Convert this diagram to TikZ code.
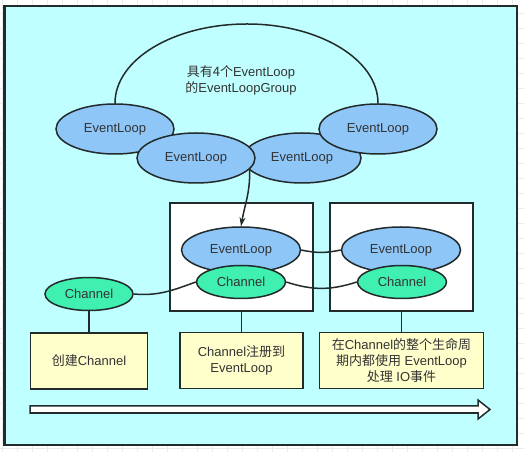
\documentclass[tikz,border=0pt]{standalone}
\usepackage{fontspec}
\setmainfont{Liberation Sans}
\newfontfamily\cjk{Noto Sans CJK SC}
\usetikzlibrary{shapes.geometric}
\usetikzlibrary{positioning}
\usetikzlibrary{arrows.meta}
\definecolor{sky}{HTML}{BFFFFF}
\definecolor{loopblue}{HTML}{8EC6F8}
\definecolor{changreen}{HTML}{40F0B0}
\definecolor{notey}{HTML}{FFFFCC}
\definecolor{ink}{HTML}{222A2A}
\definecolor{txt}{HTML}{333333}

\begin{document}
\begin{tikzpicture}[x=1pt,y=1pt,
  every node/.style={font=\fontsize{13}{16}\selectfont,text=txt},
  conn/.style={draw=ink,line width=1.5pt},
  evloop/.style={ellipse,conn,fill=loopblue,minimum width=118pt,minimum height=50pt,inner sep=0pt},
  chan/.style={ellipse,conn,fill=changreen,minimum width=89pt,minimum height=33pt,inner sep=0pt},
  stage/.style={rectangle,conn,fill=white,minimum width=143pt,minimum height=108pt},
  notebox/.style={rectangle,conn,fill=notey,minimum height=56pt,align=center,inner sep=0pt},
  gridline/.style={draw=black!8,line width=0.6pt}]
\useasboundingbox (0,0) rectangle (524,452);
\foreach \gx in {2,17,...,524} \draw[gridline] (\gx,0) -- (\gx,452);
\foreach \gy in {4,19,...,452} \draw[gridline] (0,\gy) -- (524,\gy);
\draw[draw=ink,line width=2.5pt,fill=sky] (4.5,446) rectangle (517,7);

\node[evloop] (e1) at (115,323) {EventLoop};
\node[evloop] (e3) at (302,294) {EventLoop};
\node[evloop] (e2) at (196,294) {EventLoop};
\node[evloop] (e4) at (378,323) {EventLoop};
\coordinate (gtop) at (247,428);
\draw[conn] (e1.north) .. controls +(0,44) and +(-73,0) .. (gtop) .. controls +(72,0) and +(0,44) .. (e4.north);
\node[align=center] (glabel) at (241,372) {{\cjk 具有4个}EventLoop\\{\cjk 的}EventLoopGroup};

\node[stage] (b1) at (241.5,195) {};
\node[stage] (b2) at (401.5,195) {};
\node[evloop,minimum width=119pt,minimum height=46pt] (l1) at (241,202) {EventLoop};
\node[evloop,minimum width=119pt,minimum height=46pt] (l2) at (401,202) {EventLoop};
\node[chan] (ch1) at (241,170) {Channel};
\node[chan] (ch2) at (402,170) {Channel};
\node[chan,minimum width=88pt] (ch0) at (89,158) {Channel};

\draw[conn,-{Stealth[length=9pt,width=6pt]}] (e2.-12) to[out=-88,in=80] (l1.north);
\draw[conn] (l1.east) to[out=-12,in=192] (l2.west);
\draw[conn] (ch0.east) to[out=-5,in=200] (ch1.west);
\draw[conn] (ch1.east) to[out=-18,in=198] (ch2.west);

\node[notebox,minimum width=117pt,below=21pt of ch0] (n0) {{\cjk 创建}Channel};
\node[notebox,minimum width=123pt,below=20pt of b1] (n1) {Channel{\cjk 注册到}\\EventLoop};
\node[notebox,minimum width=164pt,below=20pt of b2] (n2) {{\cjk 在}Channel{\cjk 的整个生命周}\\{\cjk 期内都使用} EventLoop\\{\cjk 处理} IO{\cjk 事件}};
\draw[conn] (ch0.south) -- (n0.north);
\draw[conn] (b1.south) -- (n1.north);
\draw[conn] (b2.south) -- (n2.north);

\draw[conn,fill=white,line join=miter] (30,46) -- (478,46) -- (478,52) -- (490,42.5) -- (478,33) -- (478,39) -- (30,39) -- cycle;

\end{tikzpicture}
\end{document}
